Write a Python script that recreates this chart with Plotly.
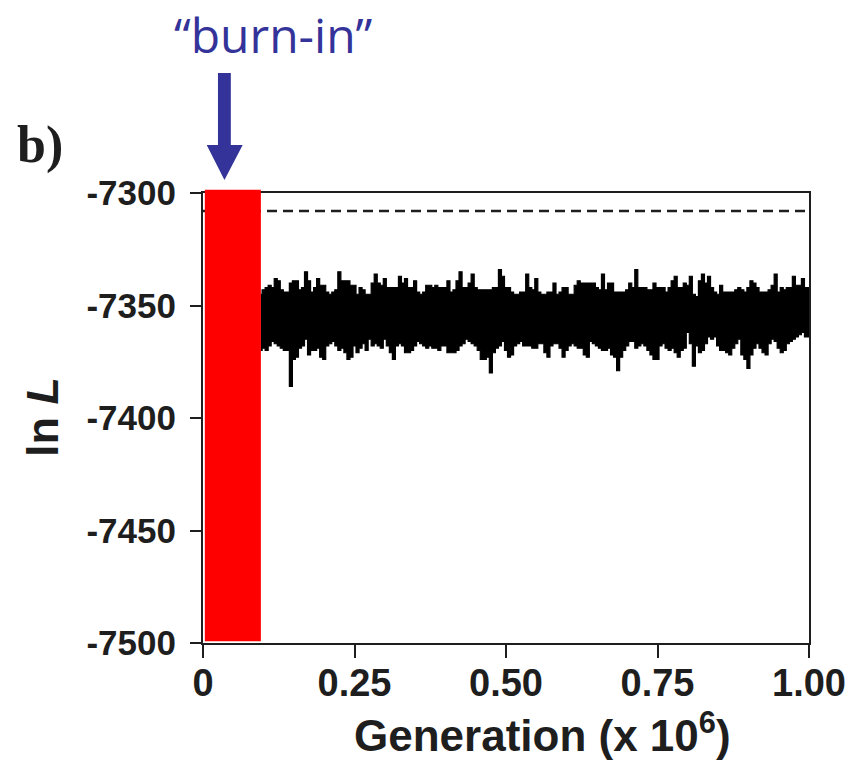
import plotly.graph_objects as go

# MCMC trace of ln L after burn-in (envelope, step 0.005 x 10^6 generations)
gen_start = 0.095
gen_step = 0.005

ln_l_high = [
    -7345, -7343, -7342, -7341, -7342, -7338, -7339, -7343, -7344, -7344,
    -7340, -7339, -7339, -7343, -7342, -7335, -7339, -7344, -7342, -7338,
    -7341, -7341, -7344, -7345, -7344, -7343, -7335, -7339, -7339, -7339,
    -7341, -7341, -7345, -7342, -7343, -7345, -7345, -7340, -7336, -7340,
    -7341, -7338, -7342, -7342, -7342,
    -7342, -7337, -7340, -7338, -7342, -7342, -7339, -7344, -7345, -7344,
    -7341, -7341, -7342, -7341, -7342, -7342, -7342, -7339, -7344, -7343,
    -7339, -7335, -7342, -7342, -7340, -7336, -7342, -7343, -7343, -7343,
    -7343, -7343, -7342, -7342, -7334, -7337, -7342, -7342, -7344, -7345,
    -7345, -7344, -7344, -7336, -7342,
    -7343, -7338, -7344, -7345, -7345, -7344, -7344, -7340, -7345, -7344,
    -7342, -7342, -7345, -7345, -7341, -7339, -7340, -7340, -7340, -7340,
    -7340, -7342, -7343, -7336, -7343, -7340, -7340, -7344, -7344, -7344,
    -7344, -7343, -7340, -7342, -7334, -7342, -7342, -7342, -7343, -7343,
    -7340, -7342, -7342, -7342, -7344,
    -7342, -7339, -7337, -7342, -7342, -7340, -7341, -7337, -7345, -7346,
    -7339, -7336, -7340, -7337, -7342, -7344, -7345, -7341, -7344, -7344,
    -7344, -7344, -7343, -7342, -7343, -7344, -7342, -7339, -7340, -7342,
    -7344, -7344, -7344, -7343, -7341, -7336, -7344, -7342, -7343, -7342,
    -7342, -7337, -7341, -7341, -7338, -7342, -7342,
]

ln_l_low = [
    -7370, -7369, -7370, -7368, -7366, -7367, -7368, -7369, -7370, -7370,
    -7386, -7374, -7373, -7369, -7368, -7365, -7372, -7370, -7370, -7369,
    -7373, -7374, -7368, -7367, -7366, -7368, -7370, -7369, -7371, -7374,
    -7373, -7368, -7371, -7369, -7367, -7370, -7365, -7368, -7367, -7368,
    -7369, -7365, -7368, -7371, -7374,
    -7368, -7367, -7368, -7371, -7371, -7370, -7368, -7366, -7367, -7368,
    -7369, -7368, -7369, -7369, -7370, -7368, -7368, -7371, -7371, -7371,
    -7370, -7368, -7367, -7365, -7366, -7367, -7368, -7370, -7374, -7374,
    -7373, -7380, -7371, -7369, -7368, -7366, -7370, -7373, -7372, -7368,
    -7367, -7366, -7368, -7368, -7368,
    -7369, -7369, -7367, -7367, -7371, -7373, -7368, -7367, -7367, -7369,
    -7373, -7370, -7368, -7367, -7368, -7369, -7369, -7372, -7373, -7366,
    -7367, -7368, -7369, -7370, -7370, -7369, -7372, -7373, -7379, -7373,
    -7370, -7368, -7366, -7366, -7369, -7368, -7367, -7368, -7370, -7372,
    -7374, -7374, -7368, -7367, -7369,
    -7370, -7369, -7371, -7373, -7370, -7369, -7362, -7367, -7377, -7368,
    -7371, -7370, -7367, -7364, -7365, -7364, -7368, -7370, -7370, -7371,
    -7372, -7369, -7367, -7365, -7372, -7374, -7378, -7372, -7369, -7367,
    -7369, -7371, -7372, -7367, -7365, -7366, -7369, -7371, -7370, -7367,
    -7366, -7365, -7364, -7363, -7362, -7364, -7364,
]

generation = [round(gen_start + gen_step * i, 3) for i in range(len(ln_l_high))]

best_ln_l = -7308          # dashed reference line
burn_in = [0.003, 0.0955]  # red burn-in band (x 10^6)

x_ticks = [0, 0.25, 0.5, 0.75, 1.0]
x_tick_text = ["0", "0.25", "0.50", "0.75", "1.00"]
y_ticks = [-7500, -7450, -7400, -7350, -7300]
y_tick_text = ["-7500", "-7450", "-7400", "-7350", "-7300"]

INK = "#1e1e1e"
BLUE = "#333399"

fig = go.Figure()
fig.add_trace(go.Scatter(x=generation, y=ln_l_low, mode="lines",
                         line=dict(color="black", width=1.2, shape="hvh"),
                         hoverinfo="skip"))
fig.add_trace(go.Scatter(x=generation, y=ln_l_high, mode="lines", fill="tonexty",
                         fillcolor="black",
                         line=dict(color="black", width=1.2, shape="hvh"),
                         hoverinfo="skip"))

# dashed line
fig.add_shape(type="line", xref="x", yref="y", x0=0, x1=1, y0=best_ln_l, y1=best_ln_l,
              line=dict(color=INK, width=2.5, dash="10px,6px"))

# burn-in band
fig.add_shape(type="rect", xref="x", yref="paper", x0=burn_in[0], x1=burn_in[1],
              y0=0.004, y1=1.007, fillcolor="#ff0000", line=dict(width=0), layer="above")

# arrow pointing at the burn-in
fig.add_shape(type="path", xref="x", yref="paper",
              path="M 0.0247 1.2667 L 0.0459 1.2667 L 0.0459 1.1067 L 0.0655 1.1067 "
                   "L 0.0354 1.0289 L 0.0061 1.1067 L 0.0247 1.1067 Z",
              fillcolor=BLUE, line=dict(width=0))

fig.add_annotation(text="\u201cburn-in\u201d", xref="paper", yref="paper", x=0.117, y=1.352,
                   xanchor="center", yanchor="middle", showarrow=False,
                   font=dict(family="Open Sans", size=48, color=BLUE))
fig.add_annotation(text="b)", xref="paper", yref="paper", x=-0.269, y=1.106,
                   xanchor="center", yanchor="middle", showarrow=False,
                   font=dict(family="Liberation Serif", size=52, color=INK, weight="bold"))
fig.add_annotation(text="ln <i>L</i>", xref="paper", yref="paper", x=-0.266, y=0.502,
                   xanchor="center", yanchor="middle", showarrow=False, textangle=-90,
                   font=dict(family="Liberation Sans", size=45, color=INK, weight="bold"))
fig.add_annotation(text="Generation (x 10<sup>6</sup>)", xref="paper", yref="paper",
                   x=0.56, y=-0.198, xanchor="center", yanchor="middle", showarrow=False,
                   font=dict(family="Liberation Sans", size=44, color=INK, weight="bold"))

fig.update_layout(
    width=864, height=765,
    margin=dict(l=203, r=55, t=193, b=122),
    paper_bgcolor="white", plot_bgcolor="white",
    showlegend=False,
    xaxis=dict(range=[0, 1.0], tickvals=x_ticks, ticktext=x_tick_text,
               showgrid=False, zeroline=False, showline=True, mirror=True,
               linecolor=INK, linewidth=2, ticks="outside", ticklen=13, tickwidth=2,
               tickcolor=INK, ticklabelstandoff=-8,
               tickfont=dict(family="Liberation Sans", size=38, color=INK, weight="bold")),
    yaxis=dict(range=[-7500, -7300], tickvals=y_ticks, ticktext=y_tick_text,
               showgrid=False, zeroline=False, showline=True, mirror=True,
               linecolor=INK, linewidth=2, ticks="outside", ticklen=11, tickwidth=2,
               tickcolor=INK, ticklabelstandoff=7,
               tickfont=dict(family="Liberation Sans", size=35, color=INK, weight="bold")),
)

# drop the page's default body margin so the figure sits at the window's top-left corner
fig.write_html("out.html", config={"displayModeBar": False},
               post_script="document.body.style.margin = '0';")
